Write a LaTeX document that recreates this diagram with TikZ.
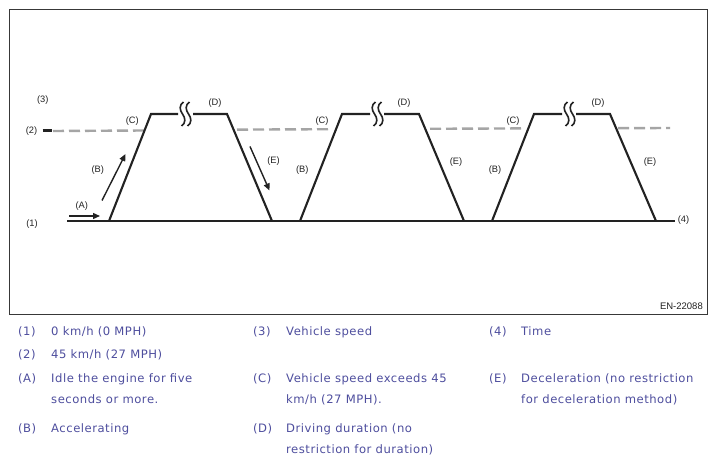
\documentclass[tikz,border=0pt]{standalone}
\usepackage{fontspec}
\setmainfont{Liberation Sans}
\newfontfamily\legendfont[LetterSpace=4.5]{DejaVu Sans}
\usetikzlibrary{arrows.meta}
\definecolor{legendblue}{RGB}{78,78,158}
\definecolor{dashgray}{RGB}{165,165,165}
\definecolor{linedark}{RGB}{34,34,34}
\tikzset{
  curve/.style={draw=linedark, line width=2.1pt, line join=miter},
  speedline/.style={draw=dashgray, line width=2.4pt, dash pattern=on 11pt off 5pt},
  breakmark/.style={draw=linedark, line width=1.6pt},
  motion/.style={draw=linedark, line width=1.4pt, -{Triangle[length=7pt,width=6pt]}},
  lbl/.style={font=\fontsize{9.3}{10}\selectfont, text=linedark, inner sep=0pt},
  lgd/.style={font=\legendfont\fontsize{11.6}{14}\selectfont, text=legendblue, inner sep=0pt, anchor=base west},
  frame/.style={draw=linedark!90, line width=0.9pt}
}
\newcommand{\breaksym}[1]{%
  \draw[breakmark] (#1+1,102) .. controls (#1-3.5,105) and (#1-3,110) .. (#1,114)
     .. controls (#1+3,118) and (#1+3.5,123) .. (#1-1,126);}
\begin{document}
\begin{tikzpicture}[x=1pt,y=-1pt]
\useasboundingbox (0,0) rectangle (716,465);
\fill[white] (0,0) rectangle (716,465);
\draw[frame] (9.5,9.5) rectangle (707.5,314);

% speed level (2), dashed
\draw[draw=linedark, line width=3pt] (42.5,131) -- (52,131);
\draw[speedline] (53,131) -- (145,130.5);
\draw[speedline] (237,129.6) -- (332,129.2);
\draw[speedline] (430,128.8) -- (523,128.4);
\draw[speedline] (618,128.2) -- (670,128);

% coordinates of the speed profile
\coordinate (s0) at (67,221);
\coordinate (b1) at (109,221);
\coordinate (t1a) at (151,114);
\coordinate (t1b) at (178,114);
\coordinate (t1c) at (193,114);
\coordinate (t1d) at (227,114);
\coordinate (e1) at (272,221);
\coordinate (b2) at (300,221);
\coordinate (t2a) at (342,114);
\coordinate (t2b) at (370,114);
\coordinate (t2c) at (384,114);
\coordinate (t2d) at (419,114);
\coordinate (e2) at (464,221);
\coordinate (b3) at (492,221);
\coordinate (t3a) at (534,114);
\coordinate (t3b) at (562,114);
\coordinate (t3c) at (576,114);
\coordinate (t3d) at (610,114);
\coordinate (e3) at (656,221);
\coordinate (s1) at (675,221);

% baseline (1) / time axis (4)
\draw[curve] (s0) -- (s1);
% trapezoids
\draw[curve] (b1) -- (t1a) -- (t1b);
\draw[curve] (t1c) -- (t1d) -- (e1);
\draw[curve] (b2) -- (t2a) -- (t2b);
\draw[curve] (t2c) -- (t2d) -- (e2);
\draw[curve] (b3) -- (t3a) -- (t3b);
\draw[curve] (t3c) -- (t3d) -- (e3);
% break marks
\breaksym{182.5}\breaksym{188.5}
\breaksym{374.5}\breaksym{380.5}
\breaksym{566.5}\breaksym{572.5}

% motion arrows
\coordinate (aA1) at (69,216);
\coordinate (aA2) at (100,216);
\coordinate (aB1) at (102,200.5);
\coordinate (aB2) at (125.5,154);
\coordinate (aE1) at (250,146.5);
\coordinate (aE2) at (269.5,190.5);
\draw[motion] (aA1) -- (aA2);
\draw[motion] (aB1) -- (aB2);
\draw[motion] (aE1) -- (aE2);

% chart labels
\node[lbl] (l3) at (42.7,100.5) {(3)};
\node[lbl] (l2) at (31.5,131) {(2)};
\node[lbl] (l1) at (32,224.5) {(1)};
\node[lbl] (l4) at (683.5,220.5) {(4)};
\node[lbl] (lA) at (81.7,206.5) {(A)};
\node[lbl] (lB1) at (97.7,170) {(B)};
\node[lbl] (lC1) at (132.3,120.7) {(C)};
\node[lbl] (lD1) at (215,103.3) {(D)};
\node[lbl] (lE1) at (273.5,161.5) {(E)};
\node[lbl] (lB2) at (302.3,170) {(B)};
\node[lbl] (lC2) at (322,121) {(C)};
\node[lbl] (lD2) at (404,103) {(D)};
\node[lbl] (lE2) at (456,162) {(E)};
\node[lbl] (lB3) at (495,170) {(B)};
\node[lbl] (lC3) at (513,121) {(C)};
\node[lbl] (lD3) at (598,103) {(D)};
\node[lbl] (lE3) at (650,162) {(E)};
\node[lbl, anchor=east, font=\fontsize{9.5}{10}\selectfont] (en) at (703,306) {EN-22088};

% legend
\node[lgd] (k1) at (18,336) {(1)};
\node[lgd] (v1) at (51,336) {0 km/h (0 MPH)};
\node[lgd] (k3) at (253,336) {(3)};
\node[lgd] (v3) at (286,336) {Vehicle speed};
\node[lgd] (k4) at (489,336) {(4)};
\node[lgd] (v4) at (521,336) {Time};
\node[lgd] (k2) at (18,359) {(2)};
\node[lgd] (v2) at (51,359) {45 km/h (27 MPH)};
\node[lgd] (kA) at (18,383) {(A)};
\node[lgd] (vA1) at (51,383) {Idle the engine for five};
\node[lgd] (vA2) at (51,403.5) {seconds or more.};
\node[lgd] (kC) at (253,383) {(C)};
\node[lgd] (vC1) at (286,383) {Vehicle speed exceeds 45};
\node[lgd] (vC2) at (286,403.5) {km/h (27 MPH).};
\node[lgd] (kE) at (489,383) {(E)};
\node[lgd] (vE1) at (521,383) {Deceleration (no restriction};
\node[lgd] (vE2) at (521,403.5) {for deceleration method)};
\node[lgd] (kB) at (18,433) {(B)};
\node[lgd] (vB) at (51,433) {Accelerating};
\node[lgd] (kD) at (253,433) {(D)};
\node[lgd] (vD1) at (286,433) {Driving duration (no};
\node[lgd] (vD2) at (286,453.5) {restriction for duration)};
\end{tikzpicture}
\end{document}
